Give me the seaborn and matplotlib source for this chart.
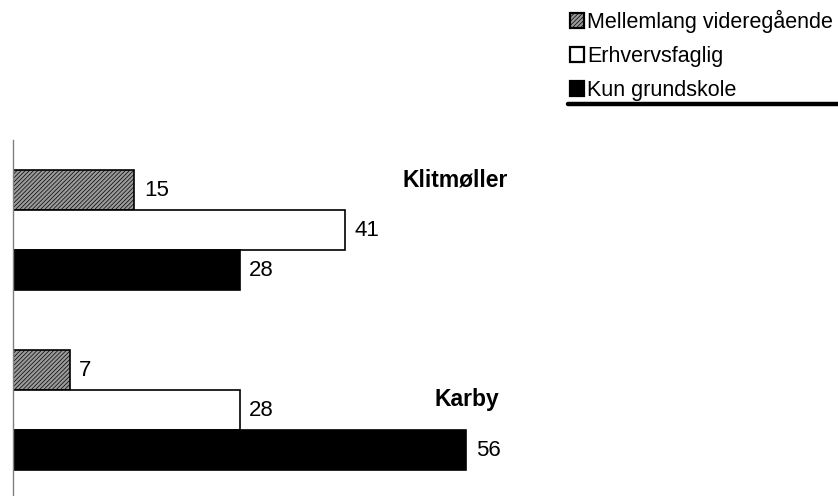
import matplotlib.pyplot as plt
import pandas as pd
import seaborn as sns
from matplotlib.lines import Line2D
from matplotlib.patches import Patch

# data
towns = ["Klitmøller", "Karby"]
levels = ["Mellemlang videregående", "Erhvervsfaglig", "Kun grundskole"]
mellemlang = [15, 7]
erhvervsfaglig = [41, 28]
grundskole = [28, 56]

fills = ["#9a9a9a", "white", "black"]
hatches = ["////////", "", ""]

df = pd.DataFrame(
    {
        "town": towns * 3,
        "level": [levels[0]] * 2 + [levels[1]] * 2 + [levels[2]] * 2,
        "value": mellemlang + erhvervsfaglig + grundskole,
    }
)

sns.set_theme(style="white")
plt.rcParams["font.family"] = ["Liberation Sans", "DejaVu Sans"]
plt.rcParams["text.color"] = "black"
plt.rcParams["hatch.color"] = "#6a6a6a"
plt.rcParams["hatch.linewidth"] = 0.5

fig = plt.figure(figsize=(8.38, 4.96), dpi=100)
W, H = 838, 496
ax = fig.add_axes([13 / W, 0, (W - 13) / W, (496 - 140) / H])

sns.barplot(
    data=df, y="town", x="value", hue="level", order=towns, hue_order=levels,
    orient="h", width=2 / 3, palette=fills, ax=ax, legend=False,
    edgecolor="black", linewidth=1.2, saturation=1,
)
for container, color, hatch in zip(ax.containers, fills, hatches):
    for bar in container:
        bar.set_facecolor(color)
        bar.set_hatch(hatch)
    ax.bar_label(container, padding=7, fontsize=16, color="black")

ax.set_xlim(0, (W - 13) / 8.09)
ax.set_ylim(-0.5 + 356 / 180, -0.5)
ax.set_xlabel("")
ax.set_ylabel("")
ax.set_xticks([])
ax.set_yticks([])
for side in ["top", "right", "bottom"]:
    ax.spines[side].set_visible(False)
ax.spines["left"].set_color("#808080")
ax.spines["left"].set_linewidth(1)

# town names next to their groups
ax.text(61.2, -0.28, towns[0], ha="right", va="center", fontsize=16.5, fontweight="bold")
ax.text(60.1, 1 - 0.06, towns[1], ha="right", va="center", fontsize=16.5, fontweight="bold")

handles = [
    Patch(facecolor=c, edgecolor="black", hatch=h, linewidth=1.6)
    for c, h in zip(fills, hatches)
]
fig.legend(
    handles, levels, loc="upper left", bbox_to_anchor=(570 / W, 1 - 10 / H),
    frameon=False, fontsize=15.5, handlelength=0.65, handleheight=0.65,
    handletextpad=0.15, labelspacing=0.6, borderaxespad=0, borderpad=0,
)
fig.add_artist(
    Line2D([568 / W, 1], [1 - 104 / H] * 2, color="black", linewidth=3.2,
           transform=fig.transFigure)
)

fig.savefig("out.png", dpi=100)
